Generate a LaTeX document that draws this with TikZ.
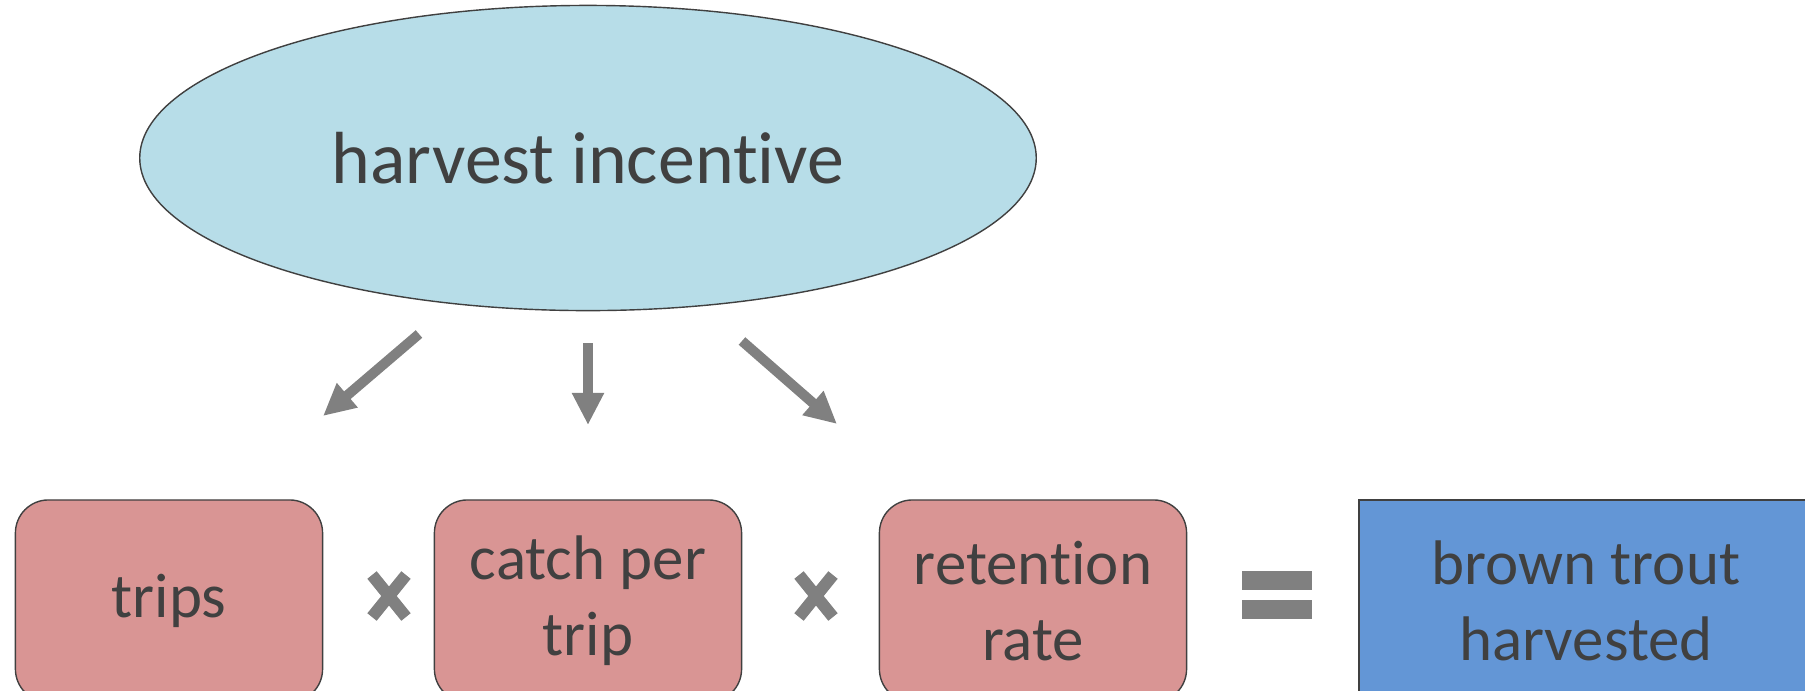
\documentclass[tikz,border=0pt]{standalone}
\usepackage{fontspec}
\setmainfont{Carlito}[Ligatures=NoCommon]
\usetikzlibrary{positioning, arrows.meta, shapes.geometric}
\definecolor{incblue}{RGB}{183,221,232}
\definecolor{boxpink}{RGB}{217,149,148}
\definecolor{outblue}{RGB}{99,150,214}
\definecolor{txtgray}{RGB}{64,64,64}
\tikzset{
    factor/.style={draw=txtgray, line width=0.4pt, fill=boxpink, rounded corners=0.33cm, minimum width=3.07cm, minimum height=2.02cm, align=center, text=txtgray, font=\fontsize{17.9}{21.5}\selectfont},
    bigarrow/.style={draw=gray, line width=0.1cm, -{Triangle[length=0.32cm, width=0.30cm]}},
    opsign/.style={draw=gray, line width=0.12cm}
}

\begin{document}
\begin{tikzpicture}[x=0.01cm, y=-0.01cm]
    \useasboundingbox (0,0) rectangle (1805,690);
    \clip (0,0) rectangle (1805,690);
    % driver
    \node[ellipse, draw=txtgray, line width=0.4pt, fill=incblue, minimum width=8.96cm, minimum height=3.05cm, text=txtgray, font=\fontsize{21}{25}\selectfont] (inc) at (588,158) {harvest incentive};
    % factors
    \node[factor] (trips) at (169,601) {trips};
    \node[factor] (catch) at (588,601) {catch per\\trip};
    \node[factor] (ret) at (1033,601) {retention\\rate};
    \node[factor, rounded corners=0, fill=outblue, minimum width=4.54cm] (harv) at (1586,601) {brown trout\\harvested};
    % arrows
    \coordinate (incL) at (419,334);
    \coordinate (tripsL) at (323,416);
    \coordinate (incM) at (588,343);
    \coordinate (catchM) at (588,425);
    \coordinate (incR) at (742,341);
    \coordinate (retR) at (837,424);
    \draw[bigarrow] (incL)--(tripsL);
    \draw[bigarrow] (incM)--(catchM);
    \draw[bigarrow] (incR)--(retR);
    % operators
    \foreach \cx in {389,816}{
        \draw[opsign] (\cx-17,596-21)--(\cx+17,596+21);
        \draw[opsign] (\cx-17,596+21)--(\cx+17,596-21);
    }
    \fill[gray] (1242,571) rectangle (1312,590);
    \fill[gray] (1242,600) rectangle (1312,619);
\end{tikzpicture}
\end{document}
